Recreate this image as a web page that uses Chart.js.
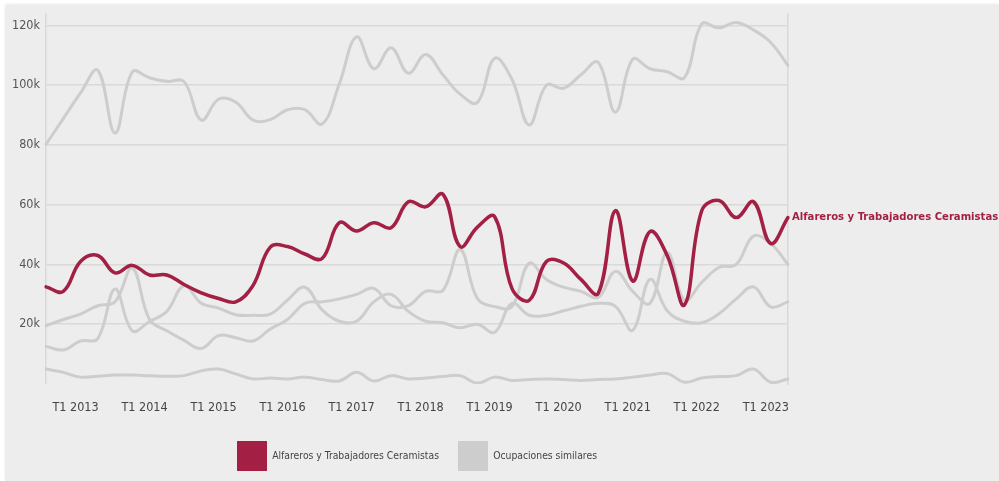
<!DOCTYPE html>
<html>
<head>
<meta charset="utf-8">
<script src="https://cdn.jsdelivr.net/npm/chart.js@4"></script>
<style>
  html, body { margin: 0; padding: 0; background: #ffffff; }
  #bg { position: absolute; left: 6px; top: 5px; width: 993px; height: 476px; background: #ededed; box-shadow: 0 0 3px rgba(0,0,0,0.18); }
  #wrap { position: absolute; left: 0; top: 0; width: 999px; height: 481px; }
</style>
</head>
<body>
<div id="bg"></div>
<div id="wrap"><canvas id="c" width="999" height="481"></canvas></div>
<script>
// Quarterly categories (T3 2012 – T2 2023)
const quarters = [
  'T3 2012','T4 2012',
  'T1 2013','T2 2013','T3 2013','T4 2013',
  'T1 2014','T2 2014','T3 2014','T4 2014',
  'T1 2015','T2 2015','T3 2015','T4 2015',
  'T1 2016','T2 2016','T3 2016','T4 2016',
  'T1 2017','T2 2017','T3 2017','T4 2017',
  'T1 2018','T2 2018','T3 2018','T4 2018',
  'T1 2019','T2 2019','T3 2019','T4 2019',
  'T1 2020','T2 2020','T3 2020','T4 2020',
  'T1 2021','T2 2021','T3 2021','T4 2021',
  'T1 2022','T2 2022','T3 2022','T4 2022',
  'T1 2023','T2 2023'
];

// Value axis ticks, thousands of people
const yTicks = [20, 40, 60, 80, 100, 120];

// Employment, thousands of people
const alfareros = [32.5, 31, 41, 43, 37.2, 39.7, 36.5, 36.5, 33.3, 30.5, 28.6, 27.5,
  33, 45.8, 46, 43.5, 42, 54, 51.2, 54, 52.3, 61, 59.3, 63.5,
  46, 52.5, 56, 32, 28, 41, 40.5, 35, 30.3, 58, 34.5, 51,
  43, 26.5, 58, 61.4, 55.7, 61, 47, 55.7];

// Related occupations
const similaresA = [19.5, 21.6, 23.4, 26.2, 27.5, 38.8, 21.6, 17.8, 14.6, 11.9, 16.2, 15.5,
  14.4, 18.4, 21.6, 27, 27.5, 28.5, 30, 32, 26.2, 26.2, 31, 31.3,
  45, 28.6, 25.9, 25.9, 40.4, 35, 32.4, 31, 29, 37.7, 31, 27,
  44, 28, 34, 39, 40, 49.5, 47, 40];
const similaresB = [12.6, 11.4, 14.4, 15.2, 31.8, 17.8, 20.9, 24.3, 32.9, 27, 25.4, 23.2,
  23, 23.4, 28.1, 32.4, 24.8, 21, 21, 27.5, 30, 24.3, 21, 20.5,
  18.8, 20, 17.3, 27, 23, 23, 24.5, 26, 27, 26, 18, 35,
  24.5, 21, 20.5, 23.5, 28.5, 32.5, 25.8, 27.5];
const similaresC = [5, 3.9, 2.3, 2.6, 3, 3, 2.8, 2.6, 2.8, 4.4, 5, 3.4,
  1.7, 2, 1.7, 2.3, 1.5, 1, 3.9, 1, 2.8, 1.7, 2, 2.5,
  2.8, 0.3, 2.3, 1.2, 1.5, 1.7, 1.5, 1.2, 1.5, 1.7, 2.3, 3,
  3.5, 0.6, 2, 2.5, 2.8, 5, 0.6, 1.7];
const similaresD = [80.2, 88.8, 97.4, 105, 84, 104.4, 102.5, 101.3, 101.2, 88.3, 95.3, 94.3,
  88.3, 88.5, 91.8, 91.8, 87, 100.5, 116.2, 105.5, 112.5, 104, 110.3, 103.5,
  97, 94.2, 109, 102, 86.7, 100, 99, 103.5, 107.6, 91, 108.7, 105.5,
  104.5, 102.5, 120.5, 119.2, 121, 118.5, 114.3, 106.6];

const RED = '#a31f43';
const GRAY = '#cdcdcd';
const AXIS = '#d9d9d9';
const NARROW = "'Liberation Sans Narrow', 'Arial Narrow', 'DejaVu Sans Condensed', sans-serif";

// Series name written next to the last red point
const endLabel = {
  id: 'endLabel',
  afterDatasetsDraw(chart) {
    const meta = chart.getDatasetMeta(0);
    const pt = meta.data[meta.data.length - 1];
    const c = chart.ctx;
    c.save();
    c.font = 'bold 11.2px ' + NARROW;
    c.fillStyle = RED;
    c.textAlign = 'left';
    c.textBaseline = 'middle';
    c.fillText(chart.data.datasets[0].label, pt.x + 4, pt.y);
    c.restore();
  }
};

const grayLine = (data) => ({
  label: 'Ocupaciones similares', data,
  borderColor: GRAY, backgroundColor: GRAY, borderWidth: 3, order: 1
});

new Chart(document.getElementById('c'), {
  type: 'line',
  data: {
    labels: quarters,
    datasets: [
      { label: 'Alfareros y Trabajadores Ceramistas', data: alfareros,
        borderColor: RED, backgroundColor: RED, borderWidth: 3.5, order: 0 },
      grayLine(similaresA),
      grayLine(similaresB),
      grayLine(similaresC),
      grayLine(similaresD)
    ]
  },
  options: {
    responsive: false,
    animation: false,
    devicePixelRatio: 1,
    layout: { padding: { left: 0, right: 211, top: 8, bottom: 0 } },
    elements: {
      point: { radius: 0, hoverRadius: 0 },
      line: { tension: 0.4, borderCapStyle: 'round', borderJoinStyle: 'round' }
    },
    plugins: {
      legend: {
        position: 'bottom',
        fullSize: false,
        labels: {
          boxWidth: 30, boxHeight: 30, padding: 19,
          color: '#444', font: { family: NARROW, size: 10.3 },
          generateLabels: (chart) =>
            Chart.defaults.plugins.legend.labels.generateLabels(chart)
              .filter(item => item.datasetIndex <= 1)
              .map(item => Object.assign(item, { lineWidth: 0, strokeStyle: 'rgba(0,0,0,0)' }))
        }
      },
      tooltip: { enabled: false }
    },
    scales: {
      x: {
        type: 'category',
        offset: false,
        grid: { display: false, drawTicks: false },
        border: { display: false },
        ticks: {
          autoSkip: false, maxRotation: 0, padding: 16, labelOffset: -5,
          color: '#444', font: { family: NARROW, size: 12.5 },
          callback: function (v) {
            const l = this.getLabelForValue(v);
            return l.startsWith('T1') ? l : null;
          }
        },
        afterFit: (s) => { s.height = 38; }
      },
      y: {
        min: 0, max: 124,
        ticks: { padding: 6, color: '#555', font: { family: NARROW, size: 12.5 },
                 callback: (v) => v + 'k' },
        grid: { color: AXIS, lineWidth: 1.5, drawTicks: false },
        border: { display: true, color: AXIS, width: 1.5 },
        afterBuildTicks: (s) => { s.ticks = yTicks.map(v => ({ value: v })); },
        afterFit: (s) => { s.width = 46; }
      },
      y2: {
        position: 'right', min: 0, max: 124,
        grid: { display: false },
        ticks: { display: false },
        border: { display: true, color: AXIS, width: 1.5 },
        afterFit: (s) => { s.width = 0; }
      }
    }
  },
  plugins: [endLabel]
});
</script>
</body>
</html>
